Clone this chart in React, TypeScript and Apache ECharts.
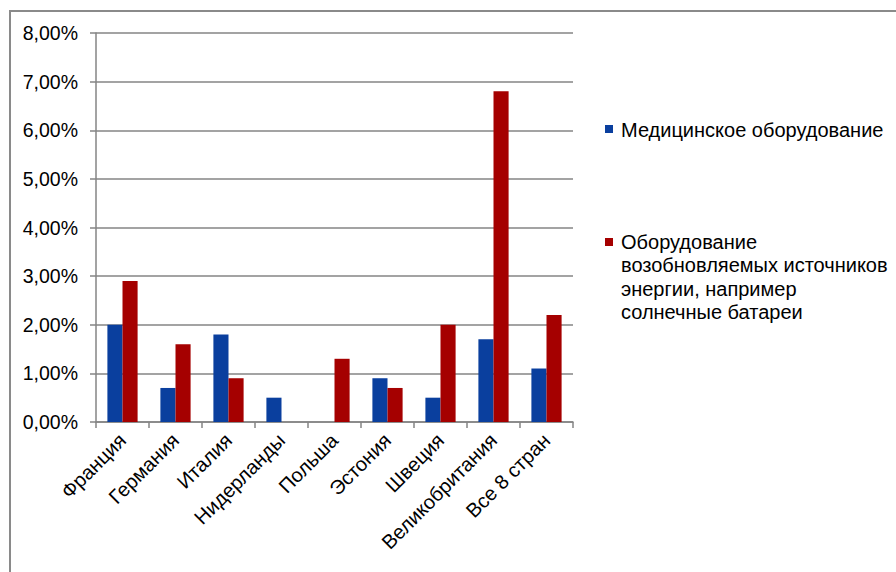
import React, { useEffect, useRef } from "react";
import * as echarts from "echarts";

const countries = [
  "Франция",
  "Германия",
  "Италия",
  "Нидерланды",
  "Польша",
  "Эстония",
  "Швеция",
  "Великобритания",
  "Все 8 стран",
];

const medicalName = "Медицинское оборудование";
const renewableName =
  "Оборудование\nвозобновляемых источников\nэнергии, например\nсолнечные батареи";

const medicalValues = [2.0, 0.7, 1.8, 0.5, 0, 0.9, 0.5, 1.7, 1.1];
const renewableValues = [2.9, 1.6, 0.9, 0, 1.3, 0.7, 2.0, 6.8, 2.2];

const BLUE = "#0A3F9E";
const RED = "#A50000";
const GRID = "#858585";
const FONT = "Liberation Sans, Arial, sans-serif";

export default function App() {
  const ref = useRef<HTMLDivElement>(null);

  useEffect(() => {
    if (!ref.current) return;
    const chart = echarts.init(ref.current, null, { renderer: "svg" });
    chart.setOption({
      animation: false,
      backgroundColor: "#ffffff",
      textStyle: { fontFamily: FONT },
      grid: { left: 96, top: 33, right: 323, bottom: 150, containLabel: false },
      xAxis: {
        type: "category",
        data: countries,
        boundaryGap: true,
        axisLine: { show: true, lineStyle: { color: GRID, width: 1.5 } },
        axisTick: { show: true, length: 6, lineStyle: { color: GRID, width: 1.5 } },
        axisLabel: {
          rotate: 45,
          interval: 0,
          margin: 15,
          color: "#000",
          fontSize: 20,
          fontFamily: FONT,
        },
      },
      yAxis: {
        type: "value",
        min: 0,
        max: 8,
        interval: 1,
        axisLine: { show: true, lineStyle: { color: GRID, width: 1.5 } },
        axisTick: { show: true, length: 6, lineStyle: { color: GRID, width: 1.5 } },
        splitLine: { show: true, lineStyle: { color: GRID, width: 1.5 } },
        axisLabel: {
          margin: 18,
          color: "#000",
          fontSize: 19.5,
          fontFamily: FONT,
          formatter: (v: number) => v.toFixed(2).replace(".", ",") + "%",
        },
      },
      series: [
        {
          name: medicalName,
          type: "bar",
          data: medicalValues,
          barGap: "0%",
          barCategoryGap: "43%",
          itemStyle: { color: BLUE },
        },
        {
          name: renewableName,
          type: "bar",
          data: renewableValues,
          itemStyle: { color: RED },
        },
      ],
      graphic: [
        // outer frame
        {
          type: "polyline",
          shape: { points: [[10, 572], [10, 11], [896, 11]] },
          style: { stroke: "#8a8a8a", lineWidth: 2, fill: "none" },
        },
        // legend
        {
          type: "rect",
          shape: { x: 605, y: 125, width: 8, height: 8 },
          style: { fill: BLUE },
        },
        {
          type: "text",
          x: 621,
          y: 130,
          style: {
            text: medicalName,
            fontSize: 20,
            fontFamily: FONT,
            fill: "#000",
            verticalAlign: "middle",
          },
        },
        {
          type: "rect",
          shape: { x: 605, y: 238, width: 8, height: 8 },
          style: { fill: RED },
        },
        {
          type: "text",
          x: 621,
          y: 230,
          style: {
            text: renewableName,
            fontSize: 20,
            lineHeight: 23.5,
            fontFamily: FONT,
            fill: "#000",
            verticalAlign: "top",
          },
        },
      ],
    });
    return () => chart.dispose();
  }, []);

  return (
    <div
      ref={ref}
      style={{ position: "fixed", left: 0, top: 0, width: 896, height: 572 }}
    />
  );
}
